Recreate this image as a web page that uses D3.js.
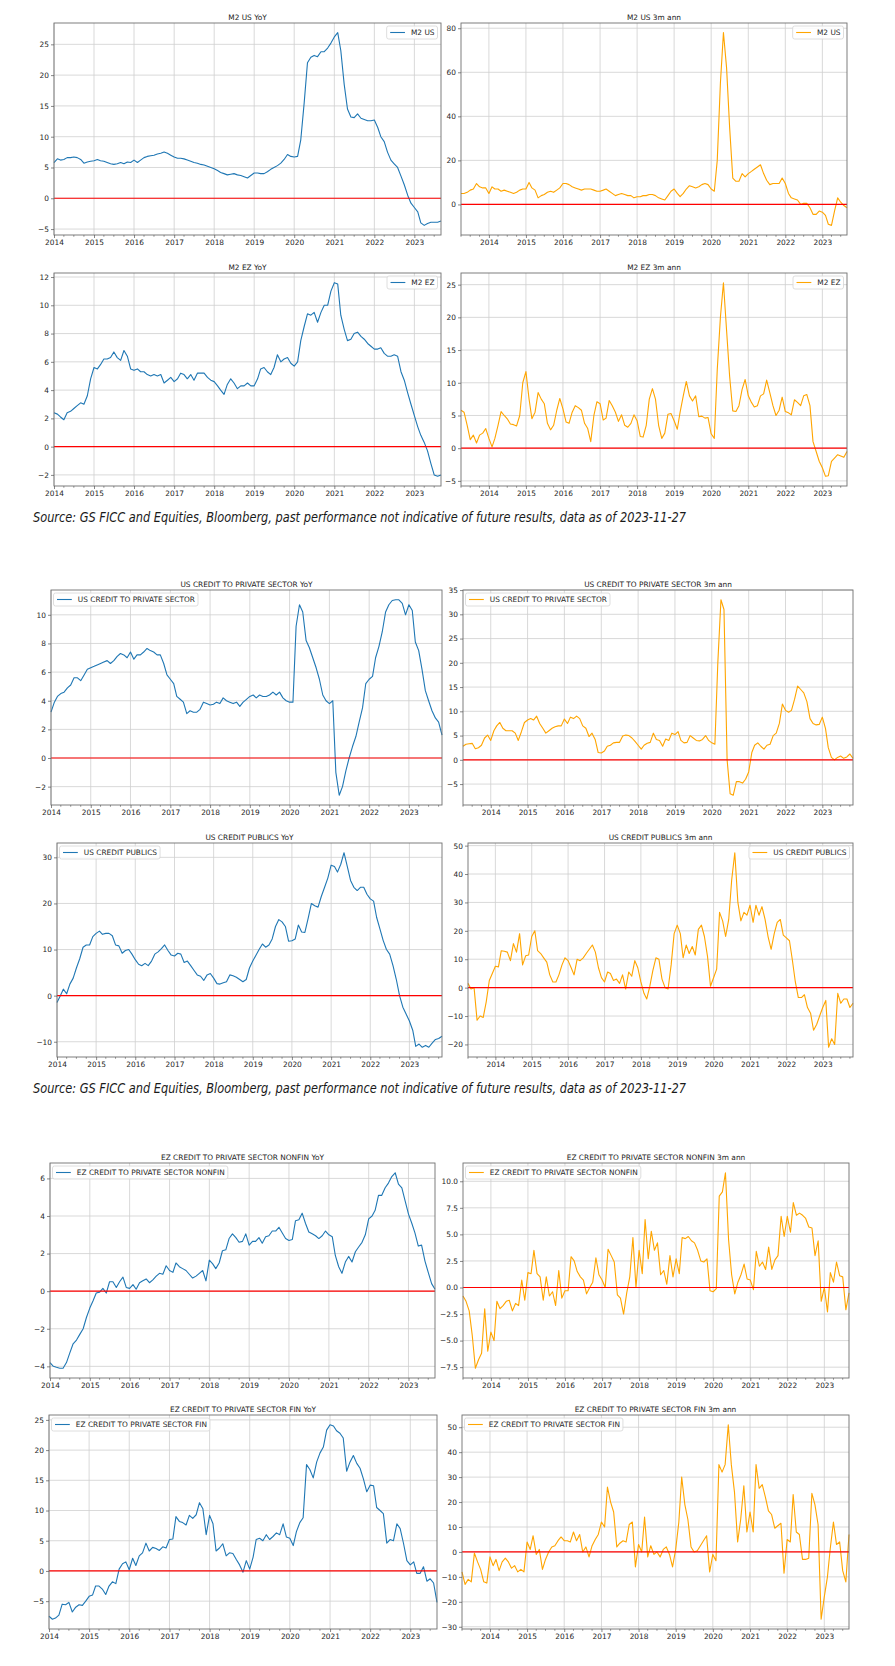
<!DOCTYPE html>
<html>
<head>
<meta charset="utf-8">
<script src="https://cdn.jsdelivr.net/npm/d3@7"></script>
<style>
  body { margin: 0; background: #fff; }
  svg { display: block; }
  text { font-family: "DejaVu Sans", sans-serif; }
</style>
</head>
<body>
<svg id="fig" width="895" height="1666"></svg>
<script>
// monthly series, YoY from 2014-01, 3m ann from 2013-04
const yoyStart = new Date(2014, 0, 1);
const annStart = new Date(2013, 3, 1);

const m2UsYoy = [
  5.8, 6.4, 6.2, 6.3, 6.6, 6.6, 6.7, 6.6, 6.3, 5.7, 5.9, 6.0,
  6.1, 6.3, 6.1, 6.0, 5.8, 5.6, 5.5, 5.6, 5.8, 5.6, 5.9, 5.8,
  6.2, 5.8, 6.2, 6.6, 6.8, 6.9, 7.0, 7.2, 7.3, 7.5, 7.3, 7.0,
  6.7, 6.5, 6.5, 6.4, 6.2, 6.0, 5.8, 5.7, 5.5, 5.4, 5.2, 5.0,
  4.8, 4.5, 4.2, 4.0, 3.8, 3.9, 4.0, 3.8, 3.7, 3.5, 3.3, 3.7,
  4.1, 4.1, 4.0, 4.0, 4.3, 4.7, 5.0, 5.3, 5.7, 6.3, 7.1, 6.8,
  6.7, 6.8, 9.5, 15.5, 22.0, 22.9, 23.2, 23.0, 23.8, 23.8, 24.4, 25.2,
  26.2, 26.9, 24.0, 18.5, 14.5, 13.2, 13.1, 13.7, 13.0, 12.8, 12.6, 12.6,
  12.7, 11.5, 10.0, 9.2, 7.5, 6.2, 5.6, 5.0, 3.6, 2.2, 0.5, -0.8,
  -1.5, -2.2, -4.0, -4.4, -4.1, -3.9, -3.9, -3.9, -3.7
];
const m2UsAnn = [
  5.0, 5.0, 5.5, 6.5, 7.0, 9.5, 8.0, 7.5, 7.5,
  5.0, 8.0, 7.0, 7.0, 6.0, 6.5, 6.0, 5.5, 5.0, 5.5, 6.5, 7.0,
  7.0, 10.0, 7.5, 6.5, 3.0, 4.0, 4.5, 5.5, 6.0, 5.5, 6.5, 7.5,
  9.5, 9.5, 9.0, 8.0, 7.5, 7.0, 6.5, 7.0, 7.0, 7.0, 6.5, 6.0,
  6.0, 6.5, 7.0, 6.0, 5.0, 4.0, 4.5, 5.0, 4.5, 4.0, 4.0, 3.0,
  3.5, 3.5, 4.0, 4.0, 4.5, 4.5, 4.0, 3.0, 2.5, 2.0, 4.0, 6.0,
  7.0, 5.0, 3.5, 5.0, 7.0, 8.5, 8.0, 7.5, 8.0, 9.0, 9.5, 9.0,
  7.0, 6.0, 20, 55, 78, 62, 35, 12, 10.5, 10.5, 14, 12.5,
  14.0, 15.0, 16.0, 17.0, 18.0, 14.0, 11.0, 9.0, 9.5, 9.5, 9.5, 12.0,
  9.5, 5.0, 3.0, 2.5, 2.0, 0.0, 0.5, 0.5, -1.5, -4.5, -4.5, -3.0,
  -3.5, -5.0, -9.0, -9.5, -3.0, 3.0, 1.0, -0.5, -1.5
];
const m2EzYoy = [
  2.4, 2.3, 2.1, 1.9, 2.4, 2.5, 2.7, 2.9, 3.1, 3.0, 3.6, 4.8,
  5.6, 5.5, 5.8, 6.2, 6.2, 6.3, 6.7, 6.3, 6.1, 6.8, 6.4, 5.5,
  5.4, 5.5, 5.3, 5.3, 5.1, 5.0, 5.1, 5.0, 5.1, 4.5, 4.7, 4.9,
  4.6, 4.8, 5.2, 5.1, 4.8, 5.1, 4.7, 5.2, 5.2, 5.2, 4.9, 4.7,
  4.6, 4.3, 4.0, 3.7, 4.4, 4.8, 4.5, 4.1, 4.3, 4.3, 4.5, 4.3,
  4.3, 4.8, 5.5, 5.6, 5.3, 5.1, 5.6, 6.5, 6.0, 6.2, 6.3, 5.9,
  5.7, 6.0, 7.5, 8.5, 9.4, 9.3, 9.5, 8.8, 9.5, 10.0, 10.0, 11.0,
  11.6, 11.5, 9.3, 8.3, 7.5, 7.6, 8.0, 8.1, 7.8, 7.6, 7.3, 7.1,
  6.9, 6.9, 7.0, 6.6, 6.4, 6.4, 6.5, 6.4, 5.3, 4.7, 3.8, 3.0,
  2.2, 1.4, 0.8, 0.3, -0.3, -1.2, -2.0, -2.1, -2.0
];
const m2EzAnn = [
  5.8, 5.5, 3.5, 1.3, 2.0, 0.8, 2.0, 2.3, 3.0,
  1.5, 0.2, 1.5, 3.5, 5.6, 5.0, 4.5, 3.7, 3.6, 3.4, 5.0, 10.0,
  11.7, 7.5, 4.5, 5.5, 8.5, 7.5, 6.8, 3.8, 2.8, 3.5, 5.8, 7.6,
  6.0, 4.0, 3.8, 5.5, 6.5, 6.2, 5.8, 3.8, 3.0, 1.0, 5.0, 7.1,
  6.8, 4.3, 4.6, 7.3, 6.5, 5.5, 4.1, 5.1, 3.5, 3.2, 3.8, 5.1,
  4.2, 1.8, 1.7, 3.5, 7.5, 9.1, 7.5, 3.5, 1.5, 2.3, 5.2, 5.3,
  4.2, 2.9, 5.5, 8.0, 10.2, 8.0, 7.2, 8.0, 4.8, 4.9, 4.6, 4.7,
  2.2, 1.5, 12, 20, 25.3, 18, 11, 5.7, 5.6, 6.5, 9.0, 10.5,
  8.0, 7.0, 6.3, 6.5, 8.0, 8.3, 10.4, 8.5, 6.5, 5.0, 5.8, 7.8,
  5.6, 5.4, 5.1, 7.4, 7.0, 6.5, 8.0, 8.2, 6.5, 1.0, -0.5, -2.0,
  -3.0, -4.3, -4.2, -2.0, -1.5, -1.0, -1.2, -1.4, -0.5
];
const usCpsYoy = [
  3.2, 3.9, 4.3, 4.5, 4.6, 4.9, 5.1, 5.6, 5.6, 5.4, 5.8, 6.2,
  6.3, 6.4, 6.5, 6.6, 6.7, 6.8, 6.6, 6.8, 7.1, 7.3, 7.2, 7.0,
  7.4, 6.9, 7.2, 7.2, 7.4, 7.65, 7.5, 7.4, 7.2, 7.2, 6.6, 5.8,
  5.5, 5.2, 4.3, 4.1, 3.9, 3.1, 3.3, 3.2, 3.2, 3.4, 3.9, 3.8,
  3.7, 3.75, 3.9, 3.8, 4.2, 4.0, 3.9, 3.8, 3.9, 3.6, 3.9, 4.1,
  4.3, 4.4, 4.2, 4.4, 4.3, 4.3, 4.4, 4.6, 4.4, 4.6, 4.2, 4.0,
  3.9, 3.9, 9.2, 10.7, 10.2, 8.2, 7.7, 7.0, 6.3, 5.5, 4.4, 4.0,
  3.8, 4.0, -1.0, -2.6, -2.0, -0.9, 0.0, 0.8, 1.5, 2.5, 3.5, 5.2,
  5.5, 5.7, 7.0, 7.8, 8.8, 10.2, 10.7, 11.0, 11.05, 11.05, 10.8, 10.0,
  10.7, 10.3, 8.1, 7.5, 6.2, 4.7, 4.0, 3.3, 2.8, 2.5, 1.6
];
const usCpsAnn = [
  2.8, 3.2, 3.3, 3.4, 2.3, 2.5, 3.0, 4.5, 5.1,
  4.0, 6.0, 7.0, 7.7, 6.5, 6.0, 6.0, 6.0, 5.5, 4.0, 5.8, 7.7,
  8.2, 8.5, 8.2, 9.0, 7.5, 6.5, 5.5, 6.0, 6.5, 6.8, 7.0, 7.0,
  8.4, 7.5, 8.8, 8.5, 9.0, 8.5, 7.0, 6.5, 4.8, 5.5, 4.2, 1.5,
  1.4, 1.8, 2.8, 3.0, 3.5, 3.6, 3.6, 4.9, 5.1, 5.0, 4.5, 3.8,
  3.0, 2.2, 3.0, 3.4, 3.6, 5.5, 4.2, 4.0, 2.8, 4.3, 4.0, 5.5,
  5.2, 5.8, 4.0, 3.5, 3.6, 5.0, 4.5, 4.0, 3.9, 4.2, 5.0, 4.0,
  3.5, 3.2, 20, 33, 31, 0, -7.0, -7.3, -4.5, -4.5, -4.8, -4.0,
  -2.5, 1.5, 3.0, 3.5, 2.8, 2.2, 3.0, 3.2, 5.0, 5.5, 7.5, 11.5,
  10.2, 9.8, 10.2, 12.5, 15.2, 14.5, 13.8, 12.0, 8.5, 7.5, 7.2, 7.3,
  8.8, 6.5, 2.5, 0.5, 0.0, 0.5, 0.8, 0.3, 0.6, 1.2, 0.3
];
const usPubYoy = [
  -1.5, 0.0, 1.4, 0.4, 2.5, 3.8, 6.0, 8.0, 10.5, 11.0, 11.0, 12.8,
  13.5, 14.0, 13.3, 13.5, 13.5, 13.0, 11.0, 10.8, 9.2, 9.8, 10.0, 9.0,
  7.8, 6.8, 6.5, 7.0, 6.5, 7.5, 9.0, 9.5, 10.2, 11.0, 9.8, 8.8,
  8.6, 9.2, 9.0, 7.2, 7.5, 6.5, 5.5, 4.5, 4.2, 3.3, 4.5, 4.8,
  3.8, 2.6, 2.5, 2.8, 3.0, 4.5, 4.3, 4.0, 3.5, 3.0, 3.5, 6.0,
  7.5, 8.8, 10.0, 11.2, 10.5, 11.0, 12.3, 15.0, 16.5, 16.0, 15.0, 11.8,
  11.9, 12.3, 15.3, 13.8, 13.7, 16.8, 20.0, 19.5, 19.2, 21.5, 23.5, 25.5,
  28.3, 28.0, 26.8, 28.5, 31.0, 28.0, 25.0, 23.5, 22.8, 23.5, 23.5, 22.0,
  21.0, 20.5, 17.0, 14.5, 12.0, 10.0, 9.0, 6.5, 3.5, 0.0, -2.5, -4.0,
  -5.5, -7.5, -11.0, -10.5, -11.2, -10.8, -11.2, -10.3, -9.5, -9.3, -8.8
];
const usPubAnn = [
  1.5, -0.5, 0.0, -11.5, -10.0, -10.5, -5.0, 2.5, 5.0,
  7.5, 7.3, 13.0, 12.8, 12.5, 9.5, 15.5, 12.5, 19.0, 8.0, 11.2, 11.5,
  18.0, 20.0, 13.0, 12.0, 10.5, 9.0, 4.5, 2.0, 2.0, 4.5, 8.0, 10.5,
  9.5, 7.0, 4.5, 10.0, 9.5, 10.5, 12.0, 13.5, 15.0, 12.5, 7.0, 3.5,
  2.0, 5.5, 5.0, 2.5, 3.0, 1.5, 4.5, -0.5, 5.5, 4.0, 9.5, 7.0,
  2.0, -2.0, -4.0, 0.5, 6.0, 10.5, 10.0, 3.0, 0.0, -0.5, 8.0, 19.0,
  22.0, 19.0, 10.5, 15.0, 12.0, 14.5, 11.5, 20.5, 22.0, 18.0, 11.0, 0.5,
  3.5, 6.5, 26.5, 23.5, 18.0, 24.0, 38.0, 47.5, 30.0, 23.5, 26.5, 25.5,
  29.0, 23.0, 29.0, 25.5, 28.5, 24.0, 18.0, 13.5, 19.0, 23.0, 24.0, 18.5,
  17.5, 16.5, 10.0, 2.0, -3.5, -3.5, -2.5, -7.0, -9.0, -15.0, -13.0, -10.0,
  -7.0, -4.5, -21.0, -18.0, -20.0, -2.0, -5.5, -4.0, -4.0, -7.0, -5.5
];
const ezNonfinYoy = [
  -3.8, -4.0, -4.05, -4.1, -4.1, -3.8, -3.3, -2.8, -2.6, -2.3, -2.0, -1.4,
  -0.9, -0.5, -0.1, -0.05, 0.15, -0.1, 0.5, 0.5, 0.2, 0.5, 0.75, 0.2,
  0.15, 0.35, 0.1, 0.45, 0.55, 0.65, 0.45, 0.6, 0.8, 0.95, 0.9, 1.35,
  1.1, 1.0, 1.5, 1.3, 1.2, 1.1, 0.9, 0.7, 0.8, 0.95, 1.1, 0.55,
  1.65, 1.45, 1.2, 1.5, 2.15, 2.2, 2.8, 3.05, 2.85, 2.6, 2.65, 3.05,
  2.45, 2.65, 2.65, 2.85, 2.55, 2.9, 2.95, 3.2, 3.2, 3.4, 3.1, 2.8,
  2.7, 2.75, 3.75, 3.8, 4.15, 3.6, 3.15, 3.05, 2.95, 2.8, 2.95, 3.2,
  3.0, 2.9, 1.9, 1.3, 0.95, 1.55, 1.85, 1.55, 2.1, 2.35, 2.6, 3.0,
  3.85, 4.0, 4.3, 5.1, 5.1, 5.5, 5.75, 6.1, 6.3, 5.7, 5.5, 4.8,
  4.1, 3.6, 3.1, 2.4, 2.45, 1.6, 1.0, 0.4, 0.1
];
const ezNonfinAnn = [
  -0.8, -1.3, -2.2, -4.5, -7.6, -6.8, -6.2, -2.0, -6.0,
  -4.2, -5.0, -1.3, -2.0, -1.7, -1.3, -1.2, -2.2, -1.5, -1.7, 0.7, -1.2,
  1.4, 1.3, 3.5, 1.3, 1.0, -1.2, 1.0, -0.8, -0.4, -1.7, 1.6, -1.0,
  -0.3, -0.3, 2.9, 2.5, 1.5, 1.0, 0.7, -0.6, 0.0, 0.5, 2.8, 1.2,
  0.7, 0.0, 3.6, 3.0, 2.4, -0.7, -1.0, -2.5, -0.5, 1.0, 4.7, 0.0,
  3.5, 1.3, 6.4, 2.7, 5.3, 3.5, 4.2, 1.2, 1.6, 0.3, 3.0, 1.0,
  2.7, 1.3, 4.7, 4.6, 4.8, 4.4, 4.2, 3.5, 2.5, 2.4, 2.7, -0.3,
  -0.4, -0.1, 8.6, 9.0, 10.8, 4.5, 1.2, -0.6, 0.5, 1.2, 2.2, 0.8,
  0.7, -0.2, 3.4, 2.0, 2.4, 1.7, 3.8, 1.7, 2.6, 3.0, 6.7, 4.8,
  6.7, 5.2, 8.0, 6.8, 7.0, 6.8, 6.5, 5.7, 5.6, 3.0, 4.4, -1.3,
  0.0, -2.3, 1.4, 0.5, 2.4, 1.1, 1.0, -2.1, -0.5
];
const ezFinYoy = [
  -7.5, -8.0, -7.8, -7.3, -5.5, -5.6, -5.2, -6.8, -6.0, -5.6, -5.7, -5.0,
  -4.2, -4.0, -2.5, -2.5, -3.0, -3.9, -2.5, -1.8, -2.1, 0.3, 1.2, 1.5,
  0.2, 2.1, 0.9, 2.5, 3.0, 4.6, 3.3, 3.9, 3.7, 3.4, 4.0, 3.8,
  5.2, 5.3, 9.0, 8.2, 8.0, 7.6, 9.2, 8.7, 9.3, 11.3, 10.3, 6.0,
  9.2, 7.8, 3.3, 3.8, 4.5, 2.5, 3.0, 2.9, 1.9, 1.0, -0.2, 1.7,
  0.3, 2.3, 5.2, 5.4, 5.0, 6.0, 5.2, 5.7, 6.3, 6.0, 7.8, 5.6,
  5.4, 4.2, 6.5, 8.0, 8.8, 17.6, 16.8, 15.4, 18.0, 19.5, 20.5, 23.3,
  24.2, 24.0, 23.2, 22.8, 22.0, 16.5, 18.0, 19.1, 17.8, 17.0, 15.2, 13.1,
  14.2, 14.1, 10.5, 10.0, 9.5, 4.6, 5.2, 5.0, 7.8, 7.0, 4.5, 1.7,
  1.0, 1.5, -0.4, -0.4, 0.7, -1.7, -1.3, -2.0, -5.2
];
const ezFinAnn = [
  -8.0, -13.0, -11.0, -12.0, -0.5, -4.0, -7.0, -12.0, -12.5,
  -2.0, -5.5, -3.0, -7.5, -4.0, -2.5, -4.0, -6.5, -5.5, -8.0, -7.0, -8.0,
  4.0, 1.0, 6.5, -1.0, 1.0, -7.0, -3.0, 0.0, 2.0, 2.5, 4.5, 6.0,
  4.5, 4.5, 4.0, 8.0, 4.5, 7.0, 0.0, 2.0, -2.0, 2.5, 5.0, 7.0,
  12.0, 10.0, 26.0, 20.0, 16.0, 2.0, 3.5, 4.5, 4.0, 11.0, 12.0, -6.0,
  3.0, 0.0, 14.0, -2.0, 2.5, -1.0, 0.0, -2.0, 1.0, 2.0, -1.0, -6.0,
  1.0, 12.0, 30.0, 19.0, 13.0, 2.0, 0.0, 0.5, 2.5, 4.5, 6.5, -8.0,
  -1.0, -3.5, 35.0, 32.0, 35.0, 51.0, 35.0, 24.0, 4.0, 13.0, 26.5, 8.0,
  16.0, 8.0, 35.0, 25.5, 27.0, 22.0, 16.5, 15.0, 9.5, 10.5, 11.5, -8.5,
  5.0, 4.0, 23.0, 8.0, 7.0, -3.0, -3.0, -2.5, 23.5, 19.0, 11.0, -27.0,
  -18.0, -10.0, 1.5, 12.0, 3.0, 4.0, -7.5, -12.0, 7.0
];

// y tick values per panel
const ticksM2UsYoy = [-5, 0, 5, 10, 15, 20, 25];
const ticksM2UsAnn = [0, 20, 40, 60, 80];
const ticksM2EzYoy = [-2, 0, 2, 4, 6, 8, 10, 12];
const ticksM2EzAnn = [-5, 0, 5, 10, 15, 20, 25];
const ticksCpsYoy = [-2, 0, 2, 4, 6, 8, 10];
const ticksCpsAnn = [-5, 0, 5, 10, 15, 20, 25, 30, 35];
const ticksPubYoy = [-10, 0, 10, 20, 30];
const ticksPubAnn = [-20, -10, 0, 10, 20, 30, 40, 50];
const ticksNonfinYoy = [-4, -2, 0, 2, 4, 6];
const ticksNonfinAnn = [-7.5, -5, -2.5, 0, 2.5, 5, 7.5, 10];
const ticksFinYoy = [-5, 0, 5, 10, 15, 20, 25];
const ticksFinAnn = [-30, -20, -10, 0, 10, 20, 30, 40, 50];

const source = "Source: GS FICC and Equities, Bloomberg, past performance not indicative of future results, data as of 2023-11-27";

const BLUE = "#1f77b4", ORANGE = "#ffa500";

const panels = [
  {title: "M2 US YoY", name: "M2 US", values: m2UsYoy, start: yoyStart, color: BLUE, ticks: ticksM2UsYoy, leg: "right", box: [54, 23, 441, 235]},
  {title: "M2 US 3m ann", name: "M2 US", values: m2UsAnn, start: annStart, color: ORANGE, ticks: ticksM2UsAnn, leg: "right", box: [461, 23, 847, 235]},
  {title: "M2 EZ YoY", name: "M2 EZ", values: m2EzYoy, start: yoyStart, color: BLUE, ticks: ticksM2EzYoy, leg: "right", box: [54, 273, 441, 486]},
  {title: "M2 EZ 3m ann", name: "M2 EZ", values: m2EzAnn, start: annStart, color: ORANGE, ticks: ticksM2EzAnn, leg: "right", box: [461, 273, 847, 486]},
  {title: "US CREDIT TO PRIVATE SECTOR YoY", name: "US CREDIT TO PRIVATE SECTOR", values: usCpsYoy, start: yoyStart, color: BLUE, ticks: ticksCpsYoy, leg: "left", box: [51, 590, 442, 805]},
  {title: "US CREDIT TO PRIVATE SECTOR 3m ann", name: "US CREDIT TO PRIVATE SECTOR", values: usCpsAnn, start: annStart, color: ORANGE, ticks: ticksCpsAnn, leg: "left", box: [463, 590, 853, 805]},
  {title: "US CREDIT PUBLICS YoY", name: "US CREDIT PUBLICS", values: usPubYoy, start: yoyStart, color: BLUE, ticks: ticksPubYoy, leg: "left", box: [57, 843, 442, 1057]},
  {title: "US CREDIT PUBLICS 3m ann", name: "US CREDIT PUBLICS", values: usPubAnn, start: annStart, color: ORANGE, ticks: ticksPubAnn, leg: "right", box: [468, 843, 853, 1057]},
  {title: "EZ CREDIT TO PRIVATE SECTOR NONFIN YoY", name: "EZ CREDIT TO PRIVATE SECTOR NONFIN", values: ezNonfinYoy, start: yoyStart, color: BLUE, ticks: ticksNonfinYoy, leg: "left", box: [50, 1163, 435, 1378]},
  {title: "EZ CREDIT TO PRIVATE SECTOR NONFIN 3m ann", name: "EZ CREDIT TO PRIVATE SECTOR NONFIN", values: ezNonfinAnn, start: annStart, color: ORANGE, ticks: ticksNonfinAnn, fmt: ".1f", leg: "left", box: [463, 1163, 849, 1378]},
  {title: "EZ CREDIT TO PRIVATE SECTOR FIN YoY", name: "EZ CREDIT TO PRIVATE SECTOR FIN", values: ezFinYoy, start: yoyStart, color: BLUE, ticks: ticksFinYoy, leg: "left", box: [49, 1415, 437, 1629]},
  {title: "EZ CREDIT TO PRIVATE SECTOR FIN 3m ann", name: "EZ CREDIT TO PRIVATE SECTOR FIN", values: ezFinAnn, start: annStart, color: ORANGE, ticks: ticksFinAnn, leg: "left", box: [462, 1415, 849, 1629]}
];

const svg = d3.select("#fig");
const FS = 7.4;

function drawPanel(p) {
  const [L, T, R, B] = p.box;
  const dates = p.values.map((d, i) => d3.timeMonth.offset(p.start, i));
  const last = dates[dates.length - 1];
  const x = d3.scaleTime().domain([dates[0], last]).range([L, R]);
  const [lo, hi] = d3.extent(p.values);
  const pad = (hi - lo) * 0.05;
  const y = d3.scaleLinear().domain([lo - pad, hi + pad]).range([B, T]);
  const g = svg.append("g");

  const years = d3.timeYear.range(d3.timeYear.ceil(dates[0]), d3.timeDay.offset(last, 1));
  const quarters = d3.timeMonth.every(3).range(dates[0], d3.timeDay.offset(last, 1))
    .filter(d => d.getMonth() !== 0);

  // grid
  g.append("g").selectAll("line").data(years).join("line")
    .attr("x1", d => x(d)).attr("x2", d => x(d)).attr("y1", T).attr("y2", B)
    .attr("stroke", "#cfcfcf").attr("stroke-width", 0.8);
  g.append("g").selectAll("line").data(p.ticks).join("line")
    .attr("x1", L).attr("x2", R).attr("y1", d => y(d)).attr("y2", d => y(d))
    .attr("stroke", "#cfcfcf").attr("stroke-width", 0.8);

  // series
  g.append("path").datum(p.values)
    .attr("d", d3.line().x((d, i) => x(dates[i])).y(d => y(d)))
    .attr("fill", "none").attr("stroke", p.color).attr("stroke-width", 1.1)
    .attr("stroke-linejoin", "round");

  // zero line
  g.append("line").attr("x1", L).attr("x2", R).attr("y1", y(0)).attr("y2", y(0))
    .attr("stroke", "red").attr("stroke-width", 1.2);

  // frame
  g.append("rect").attr("x", L).attr("y", T).attr("width", R - L).attr("height", B - T)
    .attr("fill", "none").attr("stroke", "#707070").attr("stroke-width", 0.9);

  // axes
  const xa = g.append("g").attr("transform", `translate(0,${B})`)
    .call(d3.axisBottom(x).tickValues(years).tickFormat(d3.timeFormat("%Y"))
      .tickSize(3).tickPadding(1.5).tickSizeOuter(0));
  g.append("g").selectAll("line").data(quarters).join("line")
    .attr("x1", d => x(d)).attr("x2", d => x(d)).attr("y1", B).attr("y2", B + 1.8)
    .attr("stroke", "#555").attr("stroke-width", 0.6);
  const ya = g.append("g").attr("transform", `translate(${L},0)`)
    .call(d3.axisLeft(y).tickValues(p.ticks).tickFormat(d3.format(p.fmt || ""))
      .tickSize(3).tickPadding(2).tickSizeOuter(0));
  [xa, ya].forEach(a => {
    a.select(".domain").remove();
    a.selectAll("line").attr("stroke", "#555").attr("stroke-width", 0.7);
    a.selectAll("text").attr("font-size", FS).attr("fill", "#262626")
      .attr("font-family", "DejaVu Sans");
  });

  // title
  g.append("text").attr("x", (L + R) / 2).attr("y", T - 3.5)
    .attr("text-anchor", "middle").attr("font-size", FS).attr("fill", "#1a1a1a")
    .text(p.title);

  // legend
  const lg = g.append("g");
  const box = lg.append("rect");
  const lbl = lg.append("text").attr("font-size", FS).attr("fill", "#262626").text(p.name);
  const tw = lbl.node().getComputedTextLength();
  const bw = 3 + 14.8 + 6 + tw + 3.5, bh = 13;
  const bx = p.leg === "right" ? R - 3.5 - bw : L + 2.5;
  const by = T + 3;
  box.attr("x", bx).attr("y", by).attr("width", bw).attr("height", bh).attr("rx", 2)
    .attr("fill", "#fff").attr("fill-opacity", 0.85).attr("stroke", "#d6d6d6").attr("stroke-width", 0.8);
  lg.append("line").attr("x1", bx + 3.5).attr("x2", bx + 18.3)
    .attr("y1", by + bh / 2).attr("y2", by + bh / 2)
    .attr("stroke", p.color).attr("stroke-width", 1.1);
  lbl.attr("x", bx + 24.3).attr("y", by + bh / 2 + 2.7);
}

panels.forEach(drawPanel);

// source notes
[522, 1093].forEach(yPos => {
  svg.append("text").attr("x", 33).attr("y", yPos)
    .attr("font-family", "'Noto Sans', 'Open Sans', sans-serif")
    .attr("font-style", "italic").attr("font-size", 13.5).attr("fill", "#1a1a1a")
    .attr("textLength", 653).attr("lengthAdjust", "spacingAndGlyphs")
    .text(source);
});
</script>
</body>
</html>
